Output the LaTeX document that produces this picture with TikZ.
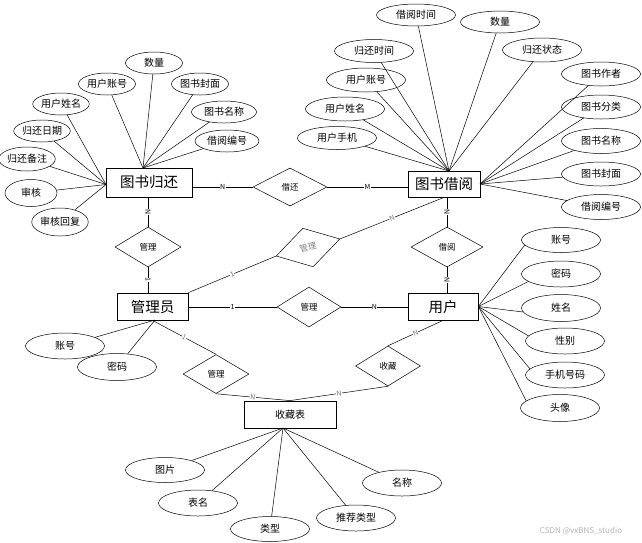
\documentclass[tikz,border=0pt]{standalone}
\usepackage{fontspec}
\setmainfont{Noto Sans CJK SC}
\usepackage{tikz}
\usetikzlibrary{shapes.geometric}

\begin{document}
\begin{tikzpicture}[
  x=1pt, y=-1pt,
  line width=0.5pt,
  entity/.style={draw, line width=0.8pt, rectangle, minimum width=#1, minimum height=27pt, inner sep=0pt, font=\fontsize{14.5}{15}\selectfont},
  attr/.style={draw, ellipse, fill=white, minimum width=79pt, minimum height=25pt, inner sep=0pt, font=\fontsize{10}{11}\selectfont},
  smallattr/.style={attr, minimum width=#1, minimum height=22pt},
  rel/.style={draw, diamond, minimum width=66pt, minimum height=40pt, inner sep=0pt, font=\fontsize{8.5}{9}\selectfont},
  card/.style={fill=white, inner sep=0.4pt, sloped, font=\fontsize{7}{7}\selectfont},
  cardg/.style={card, text=black!55}
]
\useasboundingbox (0,0) rectangle (642,542);

% entities
\node[entity=86pt, minimum height=29pt] (ghBox) at (149,182.5) {图书归还};
\node[entity=72pt, minimum height=26pt] (jyBox) at (444,184) {图书借阅};
\node[entity=71pt] (admin) at (152.5,306.5) {管理员};
\node[entity=70pt] (user) at (443,306.5) {用户};
\node[entity=92pt, font=\fontsize{10}{11}\selectfont] (fav) at (290,414.5) {收藏表};

% relationships
\node[rel, minimum width=74pt, minimum height=38pt] (rJiehuan) at (290,187) {借还};
\node[rel] (rGuanliA) at (148,247) {管理};
\node[rel, rotate=15, text=black!50] (rGuanliB) at (308,247.5) {管理};
\node[rel, minimum width=72pt] (rJieyue) at (447,247) {借阅};
\node[rel, minimum width=64pt] (rGuanliC) at (309,307) {管理};
\node[rel, minimum height=39pt] (rGuanliD) at (216,374) {管理};
\node[rel, minimum width=65pt] (rShoucang) at (388,366) {收藏};

% relationship lines
\draw (ghBox.east |- rJiehuan.west) -- node[card] {N} (rJiehuan.west);
\draw (rJiehuan.east) -- node[card] {M} (rJiehuan.east -| jyBox.west);
\draw (ghBox.south -| rGuanliA.north) -- node[card] {N} (rGuanliA.north);
\draw (rGuanliA.south) -- node[card] {1} (rGuanliA.south |- admin.north);
\draw (admin.north east) -- node[cardg] {1} (rGuanliB.west);
\draw (rGuanliB.east) -- node[cardg] {N} (jyBox.south);
\draw (jyBox.south -| rJieyue.north) -- node[card] {N} (rJieyue.north);
\draw (rJieyue.south) -- node[card] {N} (rJieyue.south |- user.north);
\draw (admin.east |- rGuanliC.west) -- node[card] {1} (rGuanliC.west);
\draw (rGuanliC.east) -- node[card] {N} (rGuanliC.east -| user.west);
\draw (admin.south) -- node[cardg] {1} (rGuanliD.north);
\draw (rGuanliD.south) -- node[cardg] {N} (fav.north);
\draw (rShoucang.south) -- node[cardg] {N} (fav.north);
\draw (user.south) -- node[cardg] {N} (rShoucang.north);

% hubs
\coordinate (ghTop) at (143,168);
\coordinate (ghLeft) at (106,184.5);
\coordinate (jyTop) at (449,171);
\coordinate (jyRight) at (480,184);
\coordinate (adminHub) at (155,320);
\coordinate (favHub) at (283,428);

% 图书归还 attributes
\node[smallattr=57pt] (ghNum) at (154,63) {数量};
\node[smallattr=57pt] (ghAcc) at (107,84) {用户账号};
\node[smallattr=57pt] (ghCover) at (200,84) {图书封面};
\node[smallattr=54pt] (ghName) at (61,104) {用户姓名};
\node[smallattr=65pt] (ghTitle) at (224,112) {图书名称};
\node[smallattr=53pt] (ghDate) at (42,131) {归还日期};
\node[smallattr=64pt] (ghNo) at (227,141) {借阅编号};
\node[smallattr=51pt, minimum height=24pt] (ghNote) at (27,159) {归还备注};
\node[smallattr=52pt, minimum height=27pt] (ghCheck) at (31,193) {审核};
\node[smallattr=52pt, minimum height=28pt] (ghReply) at (60,222) {审核回复};

\draw (ghNum) -- (ghTop);
\draw (ghAcc) -- (ghTop);
\draw (ghCover) -- (ghTop);
\draw (ghTitle) -- (ghTop);
\draw (ghNo) -- (ghTop);
\draw (ghName) -- (ghLeft);
\draw (ghDate) -- (ghLeft);
\draw (ghNote) -- (ghLeft);
\draw (ghCheck) -- (ghLeft);
\draw (ghReply) -- (ghLeft);

% 图书借阅 attributes
\node[attr, minimum height=22pt] (jyTime) at (416,15) {借阅时间};
\node[attr, minimum height=22pt] (jyNum) at (500,22) {数量};
\node[attr, minimum height=23pt] (jyBack) at (374,51) {归还时间};
\node[attr, minimum height=24pt] (jyState) at (542,50) {归还状态};
\node[attr, minimum height=24pt] (jyAcc) at (366,80) {用户账号};
\node[attr, minimum height=24pt] (jyAuthor) at (601,74) {图书作者};
\node[attr, minimum height=24pt] (jyName) at (345,109) {用户姓名};
\node[attr, minimum height=24pt] (jyType) at (601,107) {图书分类};
\node[attr, minimum height=23pt] (jyPhone) at (337,138) {用户手机};
\node[attr, minimum height=25pt] (jyTitle) at (601,141) {图书名称};
\node[attr, minimum height=24pt] (jyCover) at (601,174) {图书封面};
\node[attr, minimum height=25pt] (jyNo) at (601,207) {借阅编号};

\draw (jyTime) -- (jyTop);
\draw (jyNum) -- (jyTop);
\draw (jyBack) -- (jyTop);
\draw (jyState) -- (jyTop);
\draw (jyAcc) -- (jyTop);
\draw (jyName) -- (jyTop);
\draw (jyPhone) -- (jyTop);
\draw (jyAuthor) -- (jyRight);
\draw (jyType) -- (jyRight);
\draw (jyTitle) -- (jyRight);
\draw (jyCover) -- (jyRight);
\draw (jyNo) -- (jyRight);

% 用户 attributes
\node[attr] (userAcc) at (561,240) {账号};
\node[attr, minimum height=26pt] (userPwd) at (561,274) {密码};
\node[attr, minimum height=27pt] (userName) at (561,308) {姓名};
\node[attr, minimum height=26pt] (userSex) at (565,341) {性别};
\node[attr, minimum height=26pt] (userPhone) at (565,375) {手机号码};
\node[attr, minimum height=27pt] (userHead) at (560,408) {头像};

\draw (userAcc.188) -- (user.east);
\draw (userPwd.193) -- (user.east);
\draw (userName.186) -- (user.east);
\draw (userSex.172) -- (user.east);
\draw (userPhone.170) -- (user.east);
\draw (userHead.168) -- (user.east);

% 管理员 attributes
\node[attr, minimum height=26pt] (adminAcc) at (65,346) {账号};
\node[attr, minimum height=27pt] (adminPwd) at (117,367) {密码};

\draw (adminAcc) -- (adminHub);
\draw (adminPwd) -- (adminHub);

% 收藏表 attributes
\node[attr] (favPic) at (165,470) {图片};
\node[attr, minimum height=26pt] (favTable) at (198,503) {表名};
\node[attr] (favType) at (270,529) {类型};
\node[attr, minimum height=26pt] (favRec) at (356,518) {推荐类型};
\node[attr, minimum height=26pt] (favName) at (402,483) {名称};

\draw (favPic) -- (favHub);
\draw (favTable) -- (favHub);
\draw (favType) -- (favHub);
\draw (favRec) -- (favHub);
\draw (favName) -- (favHub);

\node[text=black!30, font=\fontsize{8}{8}\selectfont] (mark) at (581,531) {CSDN @vxBNS\_studio};
\end{tikzpicture}
\end{document}
